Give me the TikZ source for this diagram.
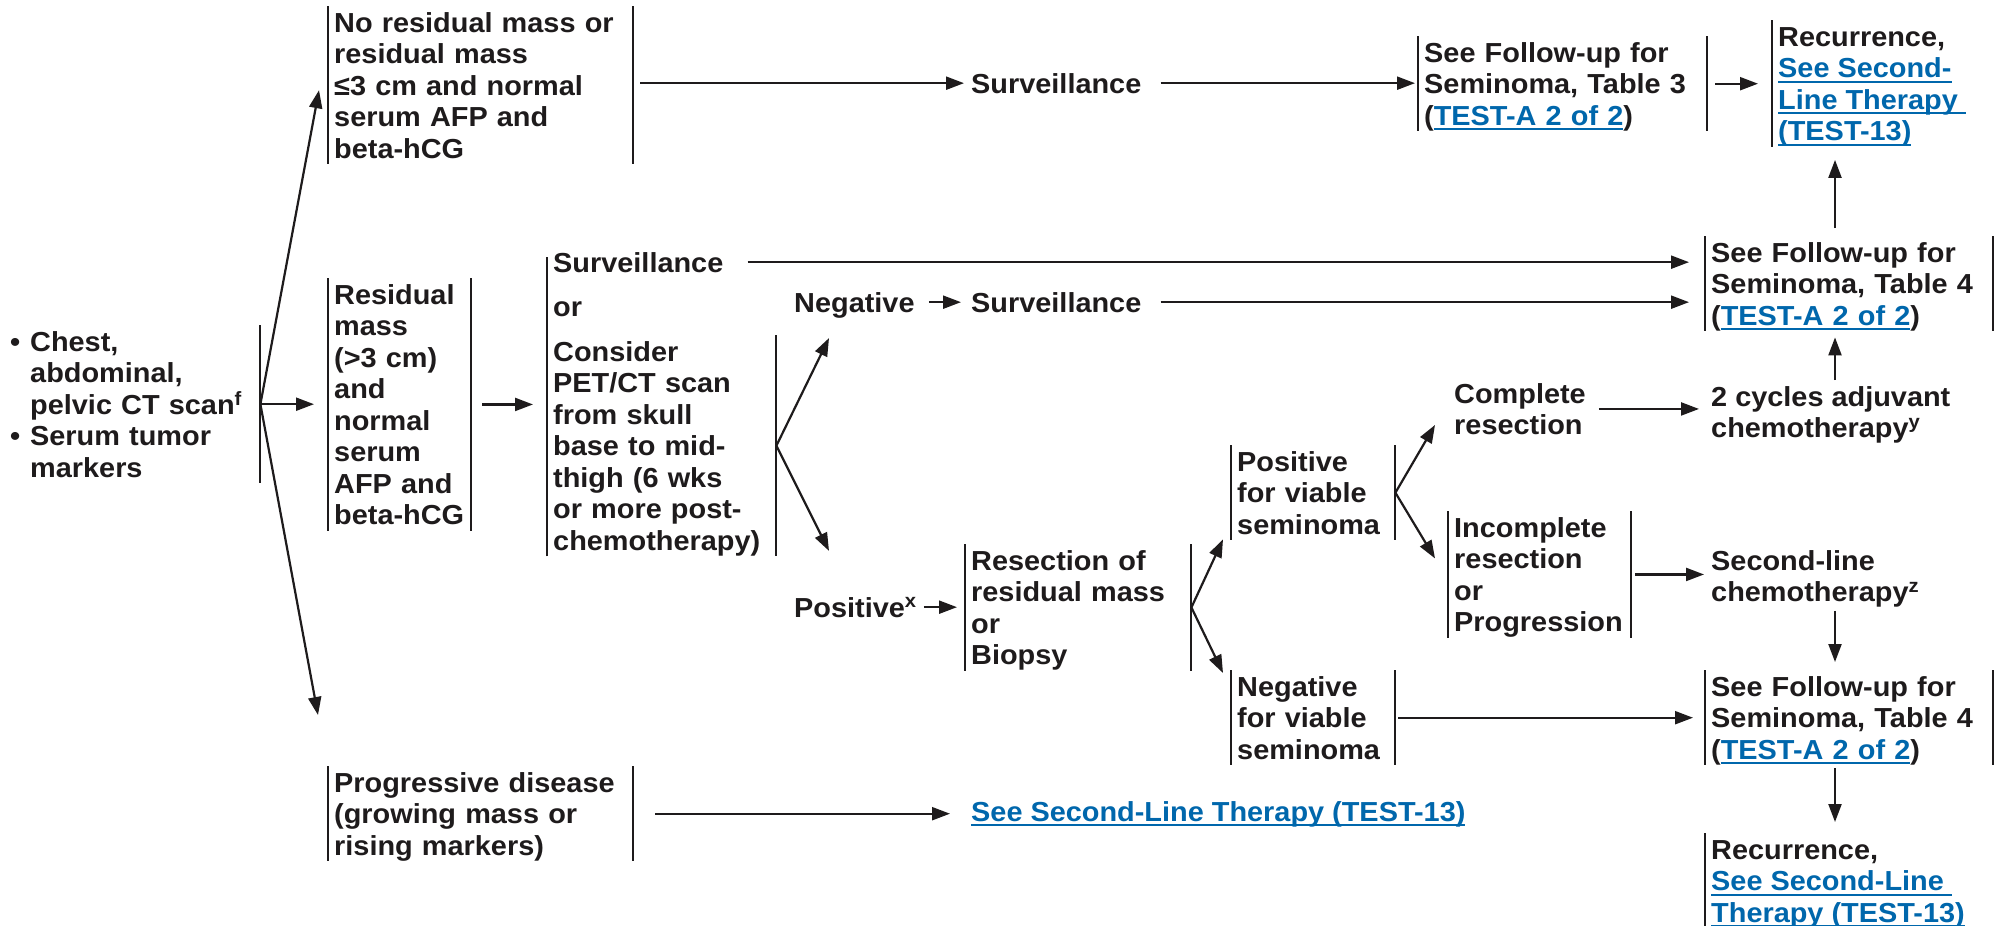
\documentclass[tikz,border=0pt]{standalone}
\usepackage{fontspec}
\setmainfont{Liberation Sans}[FakeStretch=1.05]
\usetikzlibrary{arrows.meta,calc}
\definecolor{ink}{RGB}{30,27,28}
\definecolor{linkblue}{RGB}{0,103,172}
\newcommand{\lnk}[1]{{\color{linkblue}\setbox0=\hbox{#1}\rlap{\rule[-4.8pt]{\wd0}{1.8pt}}\box0}}
\newcommand{\tstr}{\rule{0pt}{26pt}}
\newcommand{\bstr}{\rule[-6pt]{0pt}{6pt}}
\tikzset{
  every node/.style={font=\fontsize{27.5}{31.5}\selectfont\bfseries, text=ink, inner sep=0pt},
  box/.style={anchor=north west, align=left, inner xsep=6pt, inner ysep=0pt},
  txt/.style={anchor=north west, align=left},
  word/.style={anchor=base west, inner xsep=7pt},
  bar/.style={draw=ink, line width=2pt},
  arr/.style={draw=ink, line width=2.2pt, -{Triangle[length=18pt,width=13pt]}},
}
\begin{document}
\begin{tikzpicture}[x=1pt, y=-1pt]
\fill[white] (0,0) rectangle (1997,926);
\path[use as bounding box] (0,0) rectangle (1997,926);
\coordinate (colR) at (1835,0);

% nodes
\node[txt, text width=250pt] (start) at (10,325) {\tstr\makebox[20pt][l]{\textbullet}Chest,\\\hspace*{20pt}abdominal,\\\hspace*{20pt}pelvic CT scan\textsuperscript{f}\\\makebox[20pt][l]{\textbullet}Serum tumor\\\hspace*{20pt}markers\bstr};
\node[box, text width=293pt] (nores) at (328,6) {\tstr No residual mass or\\residual mass\\≤3 cm and normal\\serum AFP and\\beta-hCG\bstr};
\node[box, text width=131pt] (resid) at (328,278) {\tstr Residual\\mass\\(>3 cm)\\and\\normal\\serum\\AFP and\\beta-hCG\bstr};
\node[box, text width=293pt] (prog) at (328,766) {\tstr Progressive disease\\(growing mass or\\rising markers)\bstr};
\node[word] (surv2) at (546,272) {Surveillance};
\node[word] (orA) at (546,316) {or};
\node[box, text width=217pt] (consider) at (547,335) {\tstr Consider\\PET/CT scan\\from skull\\base to mid-\\thigh (6 wks\\or more post-\\chemotherapy)\bstr};
\node[word] (surv1) at (964,93) {Surveillance};
\node[word] (neg) at (787,312) {Negative};
\node[word] (surv3) at (964,312) {Surveillance};
\node[word] (pos) at (787,617) {Positive\textsuperscript{x}};
\node[box, text width=214pt] (resect) at (965,544) {\tstr Resection of\\residual mass\\or\\Biopsy\bstr};
\node[box, text width=152pt] (posv) at (1231,445) {\tstr Positive\\for viable\\seminoma\bstr};
\node[box, text width=152pt] (negv) at (1231,670) {\tstr Negative\\for viable\\seminoma\bstr};
\node[txt] (comp) at (1454,377) {\tstr Complete\\resection\bstr};
\node[box, text width=171pt] (inc) at (1448,511) {\tstr Incomplete\\resection\\or\\Progression\bstr};
\node[txt] (cyc2) at (1711,380) {\tstr 2 cycles adjuvant\\chemotherapy\textsuperscript{y}\bstr};
\node[txt] (sec) at (1711,544) {\tstr Second-line\\chemotherapy\textsuperscript{z}\bstr};
\node[box, text width=277pt] (fu3) at (1418,36) {\tstr See Follow-up for\\Seminoma, Table 3\\(\lnk{TEST-A 2 of 2})\bstr};
\node[box] (rec1) at (1772,20) {\tstr Recurrence,\\\lnk{See Second-}\\\lnk{Line Therapy\ }\\\lnk{(TEST-13)}\bstr};
\node[box, text width=276pt] (fu4a) at (1705,236) {\tstr See Follow-up for\\Seminoma, Table 4\\(\lnk{TEST-A 2 of 2})\bstr};
\node[box, text width=276pt] (fu4b) at (1705,670) {\tstr See Follow-up for\\Seminoma, Table 4\\(\lnk{TEST-A 2 of 2})\bstr};
\node[box] (rec2) at (1705,833) {\tstr Recurrence,\\\lnk{See Second-Line\ }\\\lnk{Therapy (TEST-13)}\bstr};
\node[word] (link) at (964,821) {\lnk{See Second-Line Therapy (TEST-13)}};

% bars
\draw[bar] (start.north east) -- (start.south east);
\foreach \nm in {nores,resid,prog,resect,posv,negv,inc,fu3,fu4a,fu4b}{
  \draw[bar] (\nm.north west) -- (\nm.south west) (\nm.north east) -- (\nm.south east);
}
\draw[bar, shorten >=5pt] (consider.south west) -- (consider.south west |- surv2.north);
\draw[bar] (consider.north east) -- (consider.south east);
\draw[bar] (rec1.north west) -- (rec1.south west);
\draw[bar] (rec2.north west) -- (rec2.south west);

% connectors
\draw[arr] (start.east) -- ($(nores.west)+(-9,5)$);
\draw[arr, shorten >=14pt] (start.east) -- (start.east -| resid.west);
\draw[arr] (start.east) -- ($(prog.north west)+(-10,-51)$);
\draw[arr, shorten <=7pt] (nores.east |- surv1.west) -- (surv1.west);
\draw[arr, shorten <=12pt, shorten >=3pt] (surv1.east) -- (surv1.east -| fu3.west);
\draw[arr, shorten <=8pt, shorten >=14pt] (fu3.east) -- (fu3.east -| rec1.west);
\draw[arr, shorten <=8pt, shorten >=13pt] (fu4a.north -| colR) -- (rec1.south -| colR);
\draw[arr, shorten <=11pt, shorten >=14pt] (resid.east) -- (resid.east -| consider.west);
\draw[arr, shorten <=17pt, shorten >=16pt] (surv2.east) -- (surv2.east -| fu4a.west);
\draw[arr] (consider.east) -- ($(neg.south west)+(42,20)$);
\draw[arr] (consider.east) -- ($(pos.north west)+(42,-46)$);
\draw[arr, shorten <=7pt, shorten >=3pt] (neg.east |- surv3.west) -- (surv3.west);
\draw[arr, shorten <=12pt, shorten >=16pt] (surv3.east) -- (surv3.east -| fu4a.west);
\draw[arr, shorten >=8pt] (pos.east) -- (pos.east -| resect.west);
\draw[arr] (resect.east) -- ($(posv.south west)+(-8,-1)$);
\draw[arr] (resect.east) -- ($(negv.north west)+(-8,3)$);
\draw[arr] (posv.east) -- ($(comp.west)+(-19,16)$);
\draw[arr] (posv.east) -- ($(inc.west)+(-13,-16)$);
\draw[arr, shorten <=13pt, shorten >=12pt] (comp.east) -- (comp.east -| cyc2.west);
\draw[arr, shorten >=6pt] (cyc2.north -| colR) -- (fu4a.south -| colR);
\draw[arr, shorten <=4pt, shorten >=7pt] (inc.east) -- (inc.east -| sec.west);
\draw[arr, shorten <=3pt, shorten >=8pt] (sec.south -| colR) -- (fu4b.north -| colR);
\draw[arr, shorten <=3pt, shorten >=12pt] (negv.east) -- (negv.east -| fu4b.west);
\draw[arr, shorten <=3pt, shorten >=11pt] (fu4b.south -| colR) -- (rec2.north -| colR);
\draw[arr, shorten <=22pt, shorten >=14pt] (prog.east) -- (prog.east -| link.west);
\end{tikzpicture}
\end{document}
